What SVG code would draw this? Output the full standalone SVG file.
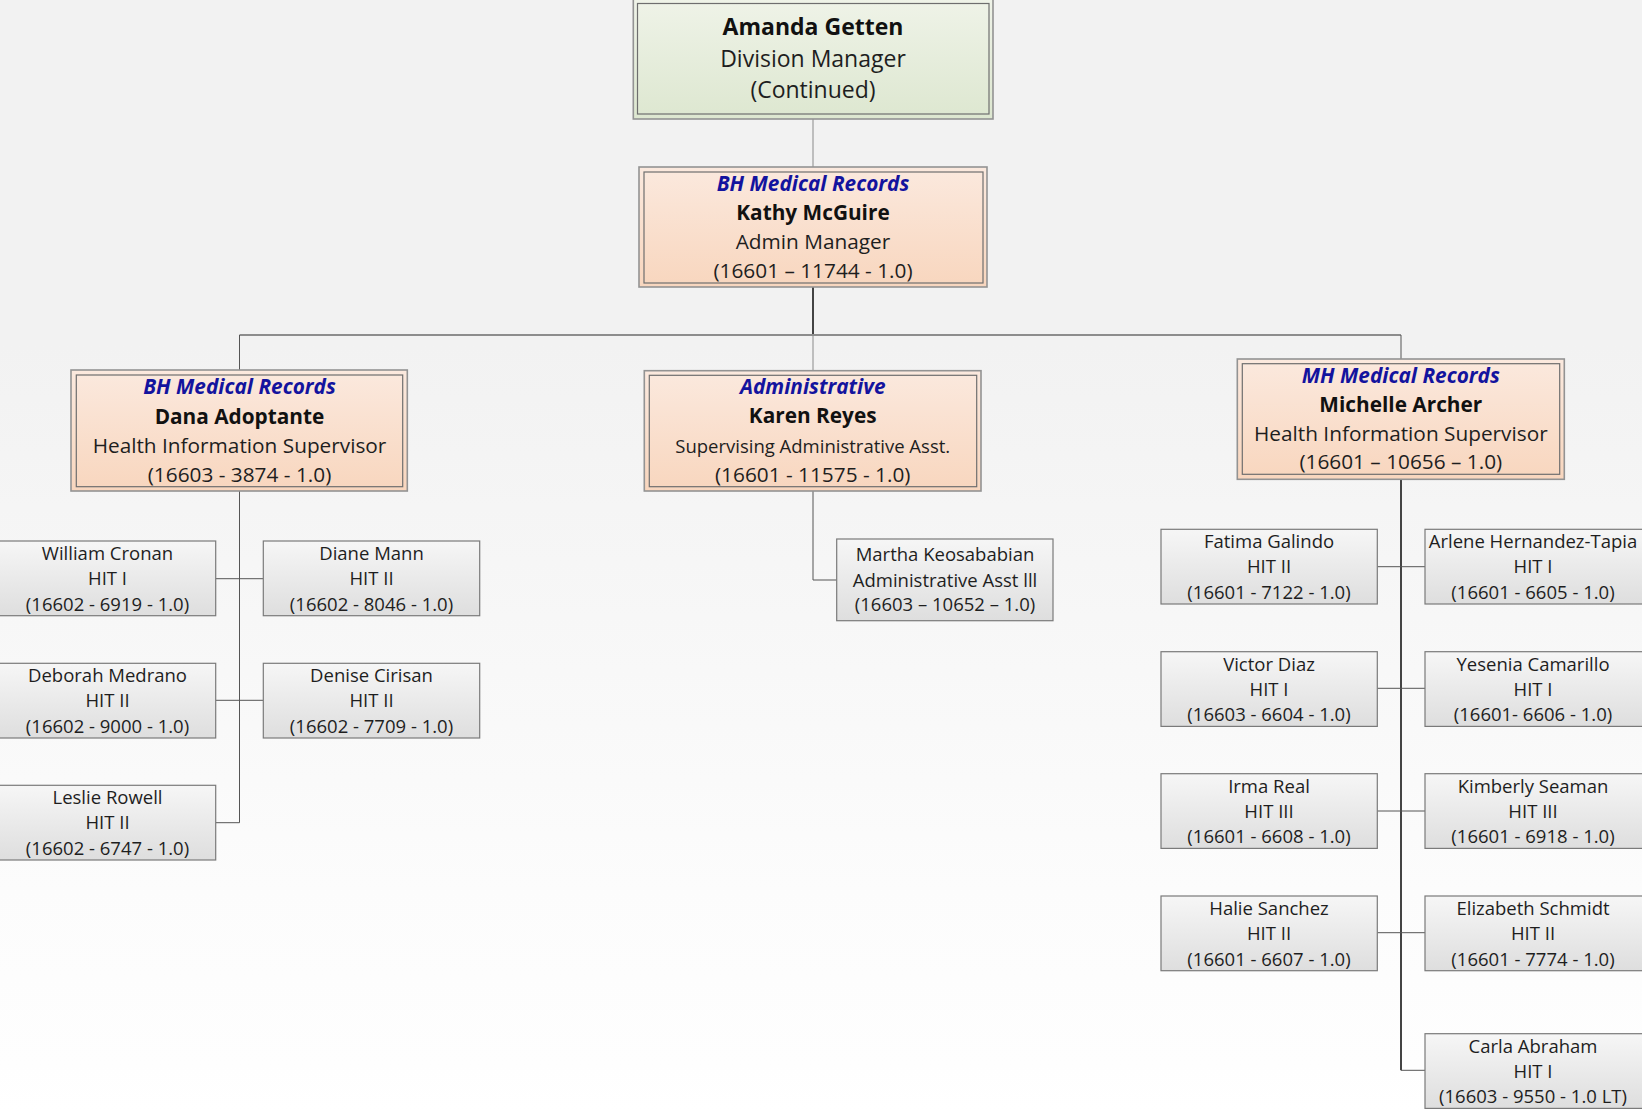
<svg xmlns="http://www.w3.org/2000/svg" width="1642" height="1111" viewBox="0 0 1642 1111">
<defs>
<linearGradient id="bg" x1="0" y1="0" x2="0" y2="1">
<stop offset="0" stop-color="#f2f2f2"/>
<stop offset="0.31" stop-color="#f2f2f2"/>
<stop offset="0.8" stop-color="#fcfcfc"/>
<stop offset="0.96" stop-color="#fefefe"/>
<stop offset="1" stop-color="#ffffff"/>
</linearGradient>
<linearGradient id="green" x1="0" y1="0" x2="0" y2="1">
<stop offset="0" stop-color="#eff3e8"/>
<stop offset="1" stop-color="#dde7d0"/>
</linearGradient>
<linearGradient id="peach" x1="0" y1="0" x2="0" y2="1">
<stop offset="0" stop-color="#fbe9de"/>
<stop offset="1" stop-color="#f8d6be"/>
</linearGradient>
<linearGradient id="gray" x1="0" y1="0" x2="0" y2="1">
<stop offset="0" stop-color="#f6f6f6"/>
<stop offset="1" stop-color="#dedede"/>
</linearGradient>
</defs>
<style>
text{font-family:"Open Sans","Noto Sans","Liberation Sans",sans-serif;text-anchor:middle;fill:#1e1e1e}
.outer{stroke:#939393;stroke-width:1.6}
.inner{fill:none;stroke:#6e6e6e;stroke-width:1.2}
.g{fill:url(#green)}
.p{fill:url(#peach)}
.small{fill:url(#gray);stroke:#7a7a7a;stroke-width:1.2}
.big{font-size:23px}
.mid{font-size:20.8px}
.sm{font-size:18.5px}
.name{font-weight:bold;fill:#111}
.dept{font-weight:bold;font-style:italic;fill:#13139e}
.conn{fill:none;stroke:#555;stroke-width:1}
.dark{fill:none;stroke:#444;stroke-width:2}
.light{fill:none;stroke:#8a8a8a;stroke-width:1}
.bus{fill:none;stroke:#8d8d8d;stroke-width:2}
</style>
<rect x="0" y="0" width="1642" height="1111" fill="url(#bg)"/>

<g id="connectors">
<path class="light" d="M813 119 V167"/>
<path class="dark" d="M813 287 V335"/>
<path class="bus" d="M239.5 335 H1401"/>
<path class="conn" d="M239.5 335 V370"/>
<path class="light" d="M813 335 V371"/>
<path class="conn" d="M1401 335 V359"/>
<path class="conn" d="M239.5 491 V822.7 H215.7"/>
<path class="conn" d="M215.7 578.7 H263.3"/>
<path class="conn" d="M215.7 700.3 H263.3"/>
<path class="conn" d="M813 491 V580 H836.7"/>
<path class="dark" d="M1401 479.3 V1070.3"/>
<path class="conn" d="M1401 1070.3 H1425"/>
<path class="conn" d="M1377.3 566.7 H1425"/>
<path class="conn" d="M1377.3 688.3 H1425"/>
<path class="conn" d="M1377.3 811 H1425"/>
<path class="conn" d="M1377.3 932.7 H1425"/>
</g>

<g id="amanda">
<rect class="outer g" x="633.3" y="-1" width="359.7" height="120"/>
<rect class="inner" x="637.5" y="3.5" width="351.5" height="110.5"/>
<text class="big name" x="813" y="35">Amanda Getten</text>
<text class="big" x="813" y="66.7">Division Manager</text>
<text class="big" x="813" y="98">(Continued)</text>
</g>

<g id="kathy">
<rect class="outer p" x="639" y="167" width="348" height="120"/>
<rect class="inner" x="644" y="172" width="339" height="111"/>
<text class="mid dept" x="813" y="190.7">BH Medical Records</text>
<text class="mid name" x="813" y="220">Kathy McGuire</text>
<text class="mid" x="813" y="249">Admin Manager</text>
<text class="mid" x="813" y="278">(16601 – 11744 - 1.0)</text>
</g>

<g id="dana">
<rect class="outer p" x="71" y="370" width="336.3" height="121"/>
<rect class="inner" x="76.3" y="375" width="326.4" height="111.7"/>
<text class="mid dept" x="239.5" y="394.3">BH Medical Records</text>
<text class="mid name" x="239.5" y="424">Dana Adoptante</text>
<text class="mid" x="239.5" y="452.7">Health Information Supervisor</text>
<text class="mid" x="239.5" y="481.7">(16603 - 3874 - 1.0)</text>
</g>

<g id="karen">
<rect class="outer p" x="644.3" y="370.7" width="336.7" height="120.3"/>
<rect class="inner" x="649.3" y="375.3" width="327.4" height="111.4"/>
<text class="mid dept" x="812.7" y="394.3">Administrative</text>
<text class="mid name" x="812.7" y="423.3">Karen Reyes</text>
<text class="sm" x="812.7" y="452.7">Supervising Administrative Asst.</text>
<text class="mid" x="812.7" y="482.3">(16601 - 11575 - 1.0)</text>
</g>

<g id="michelle">
<rect class="outer p" x="1237.3" y="359" width="327" height="120.3"/>
<rect class="inner" x="1242.3" y="363.7" width="317.4" height="110.6"/>
<text class="mid dept" x="1400.8" y="383.3">MH Medical Records</text>
<text class="mid name" x="1400.8" y="412.3">Michelle Archer</text>
<text class="mid" x="1400.8" y="440.7">Health Information Supervisor</text>
<text class="mid" x="1400.8" y="469.3">(16601 – 10656 – 1.0)</text>
</g>

<g id="william">
<rect class="small" x="-1" y="541" width="216.7" height="74.7"/>
<text class="sm" x="107.5" y="560">William Cronan</text>
<text class="sm" x="107.5" y="585">HIT I</text>
<text class="sm" x="107.5" y="610.7">(16602 - 6919 - 1.0)</text>
</g>
<g id="diane">
<rect class="small" x="263.3" y="541" width="216.4" height="74.7"/>
<text class="sm" x="371.5" y="560">Diane Mann</text>
<text class="sm" x="371.5" y="585">HIT II</text>
<text class="sm" x="371.5" y="610.7">(16602 - 8046 - 1.0)</text>
</g>
<g id="deborah">
<rect class="small" x="-1" y="663.3" width="216.7" height="74.7"/>
<text class="sm" x="107.5" y="682.3">Deborah Medrano</text>
<text class="sm" x="107.5" y="707.3">HIT II</text>
<text class="sm" x="107.5" y="733">(16602 - 9000 - 1.0)</text>
</g>
<g id="denise">
<rect class="small" x="263.3" y="663.3" width="216.4" height="74.7"/>
<text class="sm" x="371.5" y="682.3">Denise Cirisan</text>
<text class="sm" x="371.5" y="707.3">HIT II</text>
<text class="sm" x="371.5" y="733">(16602 - 7709 - 1.0)</text>
</g>
<g id="leslie">
<rect class="small" x="-1" y="785.3" width="216.7" height="74.7"/>
<text class="sm" x="107.5" y="804.3">Leslie Rowell</text>
<text class="sm" x="107.5" y="829.3">HIT II</text>
<text class="sm" x="107.5" y="855">(16602 - 6747 - 1.0)</text>
</g>

<g id="martha">
<rect class="small" x="836.7" y="539" width="216.3" height="81.7"/>
<text class="sm" x="945" y="561">Martha Keosababian</text>
<text class="sm" x="945" y="586.7">Administrative Asst lll</text>
<text class="sm" x="945" y="610.7"> (16603 – 10652 – 1.0)</text>
</g>

<g id="fatima">
<rect class="small" x="1161" y="529.3" width="216.3" height="74.7"/>
<text class="sm" x="1269" y="548.3">Fatima Galindo</text>
<text class="sm" x="1269" y="573.3">HIT II</text>
<text class="sm" x="1269" y="599">(16601 - 7122 - 1.0)</text>
</g>
<g id="arlene">
<rect class="small" x="1425" y="529.3" width="218" height="74.7"/>
<text class="sm" x="1533" y="548.3">Arlene Hernandez-Tapia</text>
<text class="sm" x="1533" y="573.3">HIT I</text>
<text class="sm" x="1533" y="599">(16601 - 6605 - 1.0)</text>
</g>
<g id="victor">
<rect class="small" x="1161" y="651.7" width="216.3" height="74.7"/>
<text class="sm" x="1269" y="670.7">Victor Diaz</text>
<text class="sm" x="1269" y="695.7">HIT I</text>
<text class="sm" x="1269" y="721.4">(16603 - 6604 - 1.0)</text>
</g>
<g id="yesenia">
<rect class="small" x="1425" y="651.7" width="218" height="74.7"/>
<text class="sm" x="1533" y="670.7">Yesenia Camarillo</text>
<text class="sm" x="1533" y="695.7">HIT I</text>
<text class="sm" x="1533" y="721.4">(16601- 6606 - 1.0)</text>
</g>
<g id="irma">
<rect class="small" x="1161" y="773.7" width="216.3" height="74.7"/>
<text class="sm" x="1269" y="792.7">Irma Real</text>
<text class="sm" x="1269" y="817.7">HIT III</text>
<text class="sm" x="1269" y="843.4">(16601 - 6608 - 1.0)</text>
</g>
<g id="kimberly">
<rect class="small" x="1425" y="773.7" width="218" height="74.7"/>
<text class="sm" x="1533" y="792.7">Kimberly Seaman</text>
<text class="sm" x="1533" y="817.7">HIT III</text>
<text class="sm" x="1533" y="843.4">(16601 - 6918 - 1.0)</text>
</g>
<g id="halie">
<rect class="small" x="1161" y="896" width="216.3" height="74.7"/>
<text class="sm" x="1269" y="915">Halie Sanchez</text>
<text class="sm" x="1269" y="940">HIT II</text>
<text class="sm" x="1269" y="965.7">(16601 - 6607 - 1.0)</text>
</g>
<g id="elizabeth">
<rect class="small" x="1425" y="896" width="218" height="74.7"/>
<text class="sm" x="1533" y="915">Elizabeth Schmidt</text>
<text class="sm" x="1533" y="940">HIT II</text>
<text class="sm" x="1533" y="965.7">(16601 - 7774 - 1.0)</text>
</g>
<g id="carla">
<rect class="small" x="1425" y="1033.7" width="218" height="74.7"/>
<text class="sm" x="1533" y="1052.7">Carla Abraham</text>
<text class="sm" x="1533" y="1077.7">HIT I</text>
<text class="sm" x="1533" y="1103.4">(16603 - 9550 - 1.0 LT)</text>
</g>
</svg>
